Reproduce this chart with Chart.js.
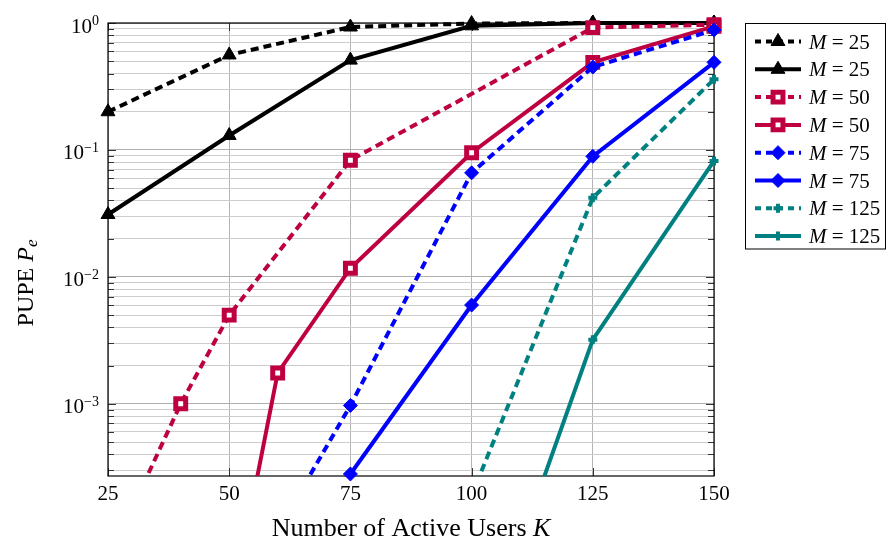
<!DOCTYPE html>
<html>
<head>
<meta charset="utf-8">
<script src="https://cdn.jsdelivr.net/npm/chart.js@4/dist/chart.umd.min.js"></script>
<style>
  html, body { margin: 0; padding: 0; background: #fff; }
  #wrap { width: 886px; height: 543px; }
</style>
</head>
<body>
<div id="wrap"><canvas id="c" width="886" height="543"></canvas></div>
<script>
// ---- data: PUPE vs number of active users ----
const kTicks = [25, 50, 75, 100, 125, 150];
const yDecadeExps = [-3, -2, -1, 0];

const k_M25_a = [25, 50, 75, 100, 125, 150];
const pe_M25_a = [0.20, 0.56, 0.93, 0.99, 1.0, 1.0];
const k_M25_b = [25, 50, 75, 100, 125, 150];
const pe_M25_b = [0.031, 0.13, 0.51, 0.95, 1.0, 1.0];

const k_M50_a = [30, 40, 50, 75, 125, 150];
const pe_M50_a = [1.5e-4, 1.0e-3, 5.0e-3, 0.083, 0.92, 0.97];
const k_M50_b = [50, 60, 75, 100, 125, 150];
const pe_M50_b = [2.0e-5, 1.75e-3, 0.0117, 0.095, 0.49, 0.94];

const k_M75_a = [60, 75, 100, 125, 150];
const pe_M75_a = [1.0e-4, 9.7e-4, 0.066, 0.45, 0.88];
const k_M75_b = [75, 100, 125, 150];
const pe_M75_b = [2.8e-4, 6.0e-3, 0.089, 0.49];

const k_M125_a = [100, 125, 150];
const pe_M125_a = [1.9e-4, 0.042, 0.36];
const k_M125_b = [100, 125, 150];
const pe_M125_b = [6.5e-6, 3.2e-3, 0.082];

const legendM = ['25', '25', '50', '50', '75', '75', '125', '125'];

// ---- styles ----
const BLACK = '#000000', PURPLE = '#BF0040', BLUE = '#0000FF', TEAL = '#008080';
const DASH = [8, 5];
const SERIF = '"Liberation Serif", "DejaVu Serif", serif';

const series = [
  { k: k_M25_a, pe: pe_M25_a, color: BLACK, dashed: true, marker: { pointStyle: 'triangle', radius: 8, borderWidth: 1, fill: BLACK } },
  { k: k_M25_b, pe: pe_M25_b, color: BLACK, dashed: false, marker: { pointStyle: 'triangle', radius: 8, borderWidth: 1, fill: BLACK } },
  { k: k_M50_a, pe: pe_M50_a, color: PURPLE, dashed: true, marker: { pointStyle: 'rect', radius: 7, borderWidth: 5, fill: '#ffffff' } },
  { k: k_M50_b, pe: pe_M50_b, color: PURPLE, dashed: false, marker: { pointStyle: 'rect', radius: 7, borderWidth: 5, fill: '#ffffff' } },
  { k: k_M75_a, pe: pe_M75_a, color: BLUE, dashed: true, marker: { pointStyle: 'rectRot', radius: 7, borderWidth: 1, fill: BLUE } },
  { k: k_M75_b, pe: pe_M75_b, color: BLUE, dashed: false, marker: { pointStyle: 'rectRot', radius: 7, borderWidth: 1, fill: BLUE } },
  { k: k_M125_a, pe: pe_M125_a, color: TEAL, dashed: true, marker: { pointStyle: 'cross', radius: 4.5, borderWidth: 4, fill: TEAL } },
  { k: k_M125_b, pe: pe_M125_b, color: TEAL, dashed: false, marker: { pointStyle: 'cross', radius: 4.5, borderWidth: 4, fill: TEAL } }
];

const datasets = [];
const nSets = series.length * 2;
series.forEach((s, i) => {
  const pts = s.k.map((k, j) => ({ x: k, y: s.pe[j] }));
  datasets.push({
    data: pts,
    borderColor: s.color,
    borderWidth: 4,
    borderDash: s.dashed ? DASH : [],
    borderCapStyle: 'butt',
    borderJoinStyle: 'miter',
    pointRadius: 0,
    fill: false,
    tension: 0,
    clip: { left: 12, right: 12, top: 12, bottom: 0 },
    order: nSets - 2 * i
  });
  datasets.push({
    data: pts,
    showLine: false,
    pointStyle: s.marker.pointStyle,
    pointRadius: s.marker.radius,
    pointBorderWidth: s.marker.borderWidth,
    pointBorderColor: s.color,
    pointBackgroundColor: s.marker.fill,
    clip: false,
    order: nSets - 2 * i - 1
  });
});

// minor + major horizontal grid values on the log axis
const Y_MIN = 2.7e-4, Y_MAX = 1;
const yGrid = [];
for (let e = -4; e <= 0; e++) {
  for (let m = 1; m <= 9; m++) {
    const v = m * Math.pow(10, e);
    if (v >= Y_MIN * 0.999 && v <= Y_MAX * 1.0001) yGrid.push(v);
  }
}
const isDecade = v => Math.abs(Math.log10(v) - Math.round(Math.log10(v))) < 1e-9;

function drawParts(ctx, parts, x, y, align) {
  // parts: [{text, font, dy}] drawn left to right on a common baseline
  let total = 0;
  parts.forEach(p => { ctx.font = p.font; p.w = ctx.measureText(p.text).width; total += p.w; });
  let cx = align === 'center' ? x - total / 2 : (align === 'right' ? x - total : x);
  ctx.textBaseline = 'alphabetic';
  ctx.textAlign = 'left';
  parts.forEach(p => { ctx.font = p.font; ctx.fillText(p.text, cx, y + (p.dy || 0)); cx += p.w; });
}

const framePlugin = {
  id: 'frame',
  beforeDatasetsDraw(chart) {
    const { ctx, chartArea: a, scales } = chart;
    ctx.save();
    ctx.strokeStyle = '#333';
    ctx.lineWidth = 1;
    ctx.beginPath();
    // inner tick marks on the log axis (both sides)
    yGrid.forEach(v => {
      const y = Math.round(scales.y.getPixelForValue(v)) + 0.5;
      const len = isDecade(v) ? 8 : 6;
      ctx.moveTo(a.left, y); ctx.lineTo(a.left + len, y);
      ctx.moveTo(a.right, y); ctx.lineTo(a.right - len, y);
    });
    kTicks.forEach(k => {
      const x = Math.round(scales.x.getPixelForValue(k)) + 0.5;
      ctx.moveTo(x, a.bottom); ctx.lineTo(x, a.bottom - 8);
      ctx.moveTo(x, a.top); ctx.lineTo(x, a.top + 8);
    });
    ctx.stroke();
    ctx.strokeStyle = '#000';
    ctx.lineWidth = 1.2;
    ctx.strokeRect(a.left, a.top, a.right - a.left, a.bottom - a.top);
    ctx.restore();
  },
  afterDraw(chart) {
    const { ctx, chartArea: a, scales } = chart;
    ctx.save();
    ctx.fillStyle = '#000';
    // y tick labels 10^e
    yDecadeExps.forEach(e => {
      const y = scales.y.getPixelForValue(Math.pow(10, e));
      const expText = e < 0 ? '\u2212' + (-e) : String(e);
      drawParts(ctx, [
        { text: '10', font: '21px ' + SERIF, dy: 9.5 },
        { text: expText, font: '14px ' + SERIF, dy: 2 }
      ], a.left - 9, y, 'right');
    });
    // x axis title
    drawParts(ctx, [
      { text: 'Number of Active Users ', font: '26px ' + SERIF },
      { text: 'K', font: 'italic 26px ' + SERIF }
    ], (a.left + a.right) / 2, 536, 'center');
    // y axis title
    ctx.save();
    ctx.translate(33, 283);
    ctx.rotate(-Math.PI / 2);
    drawParts(ctx, [
      { text: 'PUPE ', font: '24px ' + SERIF },
      { text: 'P', font: 'italic 24px ' + SERIF },
      { text: 'e', font: 'italic 17px ' + SERIF, dy: 4 }
    ], 0, 0, 'center');
    ctx.restore();

    // legend
    const bx = 745.5, by = 23.5, bw = 140, bh = 225.5;
    ctx.fillStyle = '#fff';
    ctx.fillRect(bx, by, bw, bh);
    ctx.strokeStyle = '#000';
    ctx.lineWidth = 1;
    ctx.strokeRect(bx, by, bw, bh);
    series.forEach((s, i) => {
      const y = 41.5 + i * 27.8;
      ctx.save();
      ctx.strokeStyle = s.color;
      ctx.lineWidth = 4;
      ctx.lineCap = 'butt';
      ctx.setLineDash(s.dashed ? [6, 5] : []);
      ctx.beginPath();
      ctx.moveTo(755, y); ctx.lineTo(801, y);
      ctx.stroke();
      ctx.setLineDash([]);
      ctx.fillStyle = s.marker.fill;
      ctx.strokeStyle = s.color;
      ctx.lineWidth = s.marker.borderWidth;
      Chart.helpers.drawPoint(ctx, { pointStyle: s.marker.pointStyle, radius: s.marker.radius, borderWidth: s.marker.borderWidth, rotation: 0 }, 778, y);
      ctx.restore();
      ctx.fillStyle = '#000';
      drawParts(ctx, [
        { text: 'M', font: 'italic 21px ' + SERIF },
        { text: ' = ' + legendM[i], font: '21px ' + SERIF }
      ], 809, y + 7, 'left');
    });
    ctx.restore();
  }
};

new Chart(document.getElementById('c'), {
  type: 'line',
  data: { datasets },
  options: {
    responsive: false,
    animation: false,
    events: [],
    layout: { padding: { top: 23, right: 172, bottom: 0, left: 0 } },
    plugins: { legend: { display: false }, tooltip: { enabled: false }, title: { display: false } },
    scales: {
      x: {
        type: 'linear',
        min: 25, max: 150,
        afterBuildTicks: s => { s.ticks = kTicks.map(v => ({ value: v })); },
        afterFit: s => { s.height = 67; },
        ticks: { font: { family: SERIF, size: 21 }, color: '#000', padding: 6, maxRotation: 0 },
        grid: { color: '#b4b4b4', lineWidth: 1, drawTicks: false },
        border: { display: false }
      },
      y: {
        type: 'logarithmic',
        min: Y_MIN, max: Y_MAX,
        afterBuildTicks: s => { s.ticks = yGrid.map(v => ({ value: v })); },
        afterFit: s => { s.width = 108; },
        ticks: { display: false },
        grid: { color: ctx => (ctx.tick && isDecade(ctx.tick.value)) ? '#b0b0b0' : '#cdcdcd', lineWidth: 1, drawTicks: false },
        border: { display: false }
      }
    }
  },
  plugins: [framePlugin]
});
</script>
</body>
</html>
